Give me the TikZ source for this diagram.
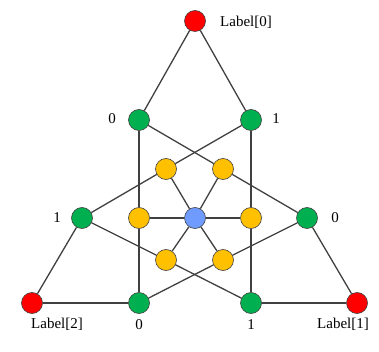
\documentclass[tikz,border=0pt]{standalone}
\usepackage{fontspec}
\setmainfont{Liberation Serif}
\definecolor{cornerred}{HTML}{FF0000}
\definecolor{sidegreen}{HTML}{00B050}
\definecolor{innergold}{HTML}{FFC000}
\definecolor{centreblue}{HTML}{6F9BFF}
\definecolor{edgegray}{HTML}{404040}
\begin{document}
\begin{tikzpicture}[x=1pt, y=-1pt,
    vertex/.style={circle, draw=edgegray, line width=0.6pt, minimum size=21pt, inner sep=0pt},
    edge/.style={draw=edgegray, line width=1.3pt},
    lab/.style={font=\fontsize{15}{18}\selectfont}]
    % Frame (pixel units, y downwards)
    \useasboundingbox (0,0) rectangle (379,352);

    % Corner vertices
    \node[vertex, fill=cornerred] (c0) at (195,21) {};
    \node[vertex, fill=cornerred] (c1) at (357,303) {};
    \node[vertex, fill=cornerred] (c2) at (32,303) {};

    % Side vertices
    \node[vertex, fill=sidegreen] (s00) at (139,120) {};
    \node[vertex, fill=sidegreen] (s01) at (251,120) {};
    \node[vertex, fill=sidegreen] (s10) at (307,218) {};
    \node[vertex, fill=sidegreen] (s11) at (82,218) {};
    \node[vertex, fill=sidegreen] (s20) at (139,303) {};
    \node[vertex, fill=sidegreen] (s21) at (251,303) {};

    % Inner ring and centre
    \node[vertex, fill=innergold] (iul) at (166,169) {};
    \node[vertex, fill=innergold] (iur) at (223,169) {};
    \node[vertex, fill=innergold] (il)  at (139,218) {};
    \node[vertex, fill=innergold] (ir)  at (251,218) {};
    \node[vertex, fill=innergold] (ill) at (166,260) {};
    \node[vertex, fill=innergold] (ilr) at (223,260) {};
    \node[vertex, fill=centreblue] (ctr) at (195,218) {};

    % Outer edges
    \foreach \a/\b in {c0/s00, c0/s01, c1/s10, c1/s21, c2/s11, c2/s20} {
        \draw[edge] (\a) -- (\b);
    }
    % Crossing edges through the inner ring
    \foreach \a/\b/\c in {s00/il/s20, s01/ir/s21, s00/iur/s10,
                          s01/iul/s11, s11/ill/s21, s10/ilr/s20} {
        \draw[edge] (\a) -- (\b);
        \draw[edge] (\b) -- (\c);
    }
    % Spokes
    \foreach \b in {iul, iur, il, ir, ill, ilr} {
        \draw[edge] (ctr) -- (\b);
    }

    % Labels
    \node[lab] (l0)  at (246,22) {Label[0]};
    \node[lab] (l1)  at (343,324) {Label[1]};
    \node[lab] (l2)  at (57,324) {Label[2]};
    \node[lab] (t00) at (112,119) {0};
    \node[lab] (t01) at (276,119) {1};
    \node[lab] (t10) at (335,218) {0};
    \node[lab] (t11) at (57,218) {1};
    \node[lab] (t20) at (139,325) {0};
    \node[lab] (t21) at (251,325) {1};
\end{tikzpicture}
\end{document}
